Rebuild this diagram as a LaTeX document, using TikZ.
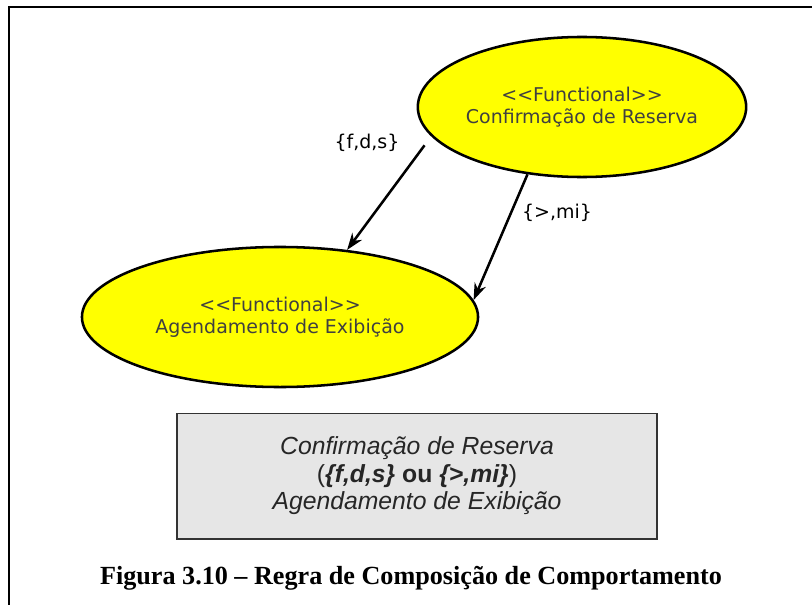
\documentclass[tikz,border=0pt]{standalone}
\usepackage{fontspec}
\setmainfont{Liberation Serif}
\setsansfont{Liberation Sans}
\newfontfamily\ucfont{DejaVu Sans}
\usetikzlibrary{shapes.geometric, arrows.meta, positioning}
\definecolor{ucyellow}{HTML}{FFFF00}
\definecolor{rulegray}{HTML}{E6E6E6}
\definecolor{ucgray}{HTML}{404040}

\begin{document}
\begin{tikzpicture}[
x=0.025cm, y=-0.025cm,
every node/.style={align=center, inner sep=0pt},
arrow/.style={-{Stealth[length=4.2mm, width=3mm]}, line width=1.8pt}
]

% Define styles
\tikzstyle{usecase} = [ellipse, fill=ucyellow, draw=black, line width=1.8pt, minimum height=3.5cm, text=ucgray, font=\ucfont\fontsize{13.5}{15.6}\selectfont]
\tikzstyle{rel} = [font=\ucfont\fontsize{13.5}{15.6}\selectfont]
\tikzstyle{rulebox} = [rectangle, fill=rulegray, draw=black!80, line width=1.4pt, minimum width=12cm, minimum height=3.125cm, text=black!85, font=\sffamily\fontsize{17.6}{19.5}\selectfont]

\useasboundingbox (0,0) rectangle (812,605);

% Frame
\draw [line width=1.6pt] (9,605) -- (9,7) -- (812,7);

% Nodes
\node (conf) [usecase, minimum width=8.2cm] at (582,107) {<\kern0pt<Functional>\kern0pt>\\Confirmação de Reserva};

\node (agen) [usecase, minimum width=9.9cm] at (280,317) {<\kern0pt<Functional>\kern0pt>\\Agendamento de Exibição};

\node (fds) [rel] at (367,143) {\{f,d,s\}};

\node (gtmi) [rel] at (557,213) {\{>,mi\}};

\node (rule) [rulebox] at (417,476) {\textit{Confirmação de Reserva}\\(\textbf{\textit{\{f,d,s\}}} \textbf{ou} \textbf{\textit{\{>,mi\}}})\\\textit{Agendamento de Exibição}};

\node (caption) [font=\bfseries\fontsize{18.6}{20}\selectfont] at (411,578) {Figura 3.10 – Regra de Composição de Comportamento};

% Arrows
\draw [arrow, shorten <=0.28cm] (conf.191) -- (agen.45);
\draw [arrow] (conf.231.5) -- (agen.5.9);

\end{tikzpicture}
\end{document}
